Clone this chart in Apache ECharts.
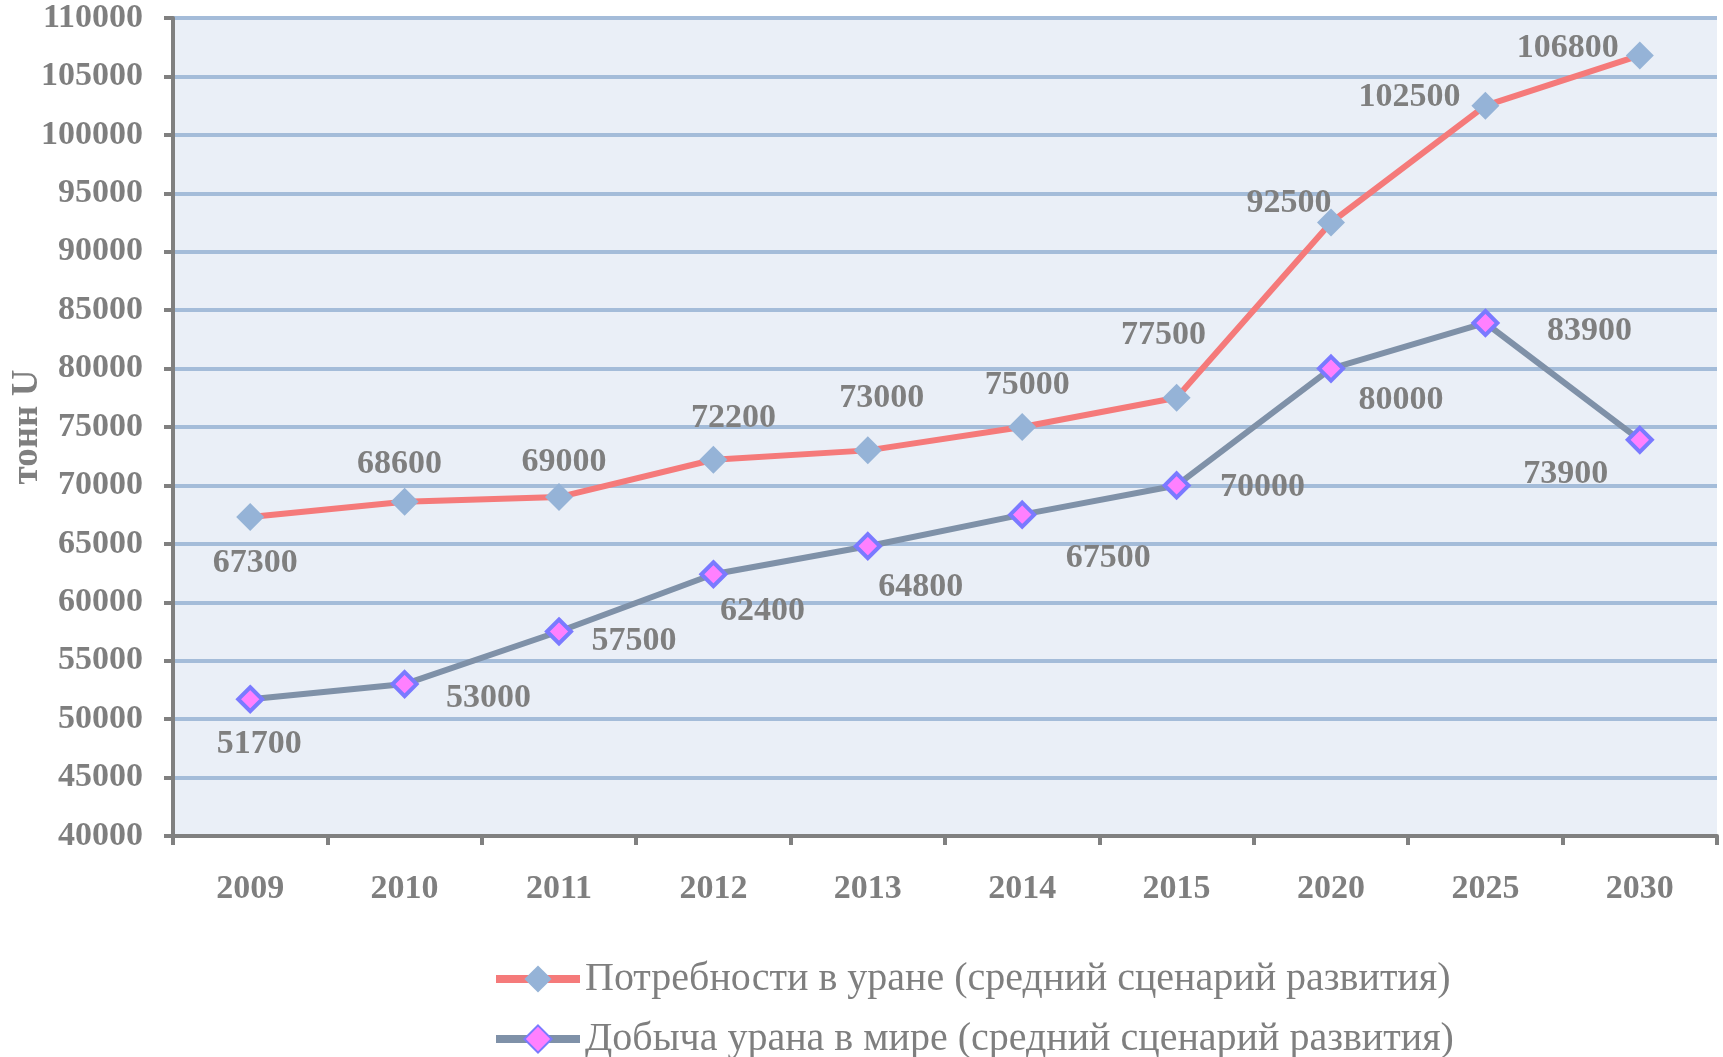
<!DOCTYPE html>
<html>
<head>
<meta charset="utf-8">
<script src="https://cdn.jsdelivr.net/npm/echarts@6/dist/echarts.min.js"></script>
<style>
  html, body { margin: 0; padding: 0; background: #fff; }
  #chart { width: 1723px; height: 1057px; }
</style>
</head>
<body>
<div id="chart"></div>
<script>
// years on the x axis
var years = ['2009', '2010', '2011', '2012', '2013', '2014', '2015', '2020', '2025', '2030'];

// tonnes of uranium
var demand = [67300, 68600, 69000, 72200, 73000, 75000, 77500, 92500, 102500, 106800];
var production = [51700, 53000, 57500, 62400, 64800, 67500, 70000, 80000, 83900, 73900];

var seriesNames = [
    'Потребности в уране (средний сценарий развития)',
    'Добыча урана в мире (средний сценарий развития)'
];

// where each value label sits relative to its marker
var demandLabelOffset = [[5, 46], [-5, -38], [5, -35], [20, -42], [14, -52], [5, -42], [-13, -63], [-42, -19], [-76, -8], [-72, -7]];
var productionLabelOffset = [[9, 45], [84, 14], [75, 10], [49, 37], [53, 41], [86, 44], [86, 2], [70, 32], [104, 8], [-74, 34]];

var serif = '"Liberation Serif", "Times New Roman", serif';
var grey = '#7f7f7f';

function withLabels(values, offsets) {
    return values.map(function(v, i) {
        return { value: v, label: { offset: offsets[i] } };
    });
}

var labelStyle = {
    show: true,
    position: 'inside',
    color: grey,
    fontFamily: serif,
    fontWeight: 'bold',
    fontSize: 34
};

function legendRow(name, top) {
    return {
        orient: 'vertical',
        left: 492,
        top: top,
        padding: 0,
        itemWidth: 84,
        itemHeight: 34,
        itemGap: 0,
        lineStyle: { width: 8 },
        textStyle: {
            color: grey,
            fontFamily: serif,
            fontSize: 40
        },
        data: [name]
    };
}

var option = {
    backgroundColor: '#ffffff',
    animation: false,
    grid: {
        left: 173,
        right: 6,
        top: 18,
        bottom: 221,
        outerBoundsMode: 'none',
        containLabel: false,
        show: true,
        backgroundColor: '#eaeff7',
        borderWidth: 0
    },
    legend: [
        legendRow(seriesNames[0], 959),
        legendRow(seriesNames[1], 1019)
    ],
    xAxis: {
        type: 'category',
        data: years,
        boundaryGap: true,
        axisLine: { lineStyle: { color: '#808080', width: 4 } },
        axisTick: { show: true, length: 9, inside: false, lineStyle: { color: '#808080', width: 4 } },
        axisLabel: {
            color: grey,
            fontFamily: serif,
            fontWeight: 'bold',
            fontSize: 34,
            margin: 36
        }
    },
    yAxis: {
        type: 'value',
        min: 40000,
        max: 110000,
        interval: 5000,
        name: 'тонн U',
        nameLocation: 'middle',
        nameRotate: 90,
        nameGap: 127,
        nameMoveOverlap: false,
        nameTextStyle: {
            color: grey,
            fontFamily: serif,
            fontWeight: 'bold',
            fontSize: 37
        },
        axisLine: { show: true, lineStyle: { color: '#808080', width: 4 } },
        axisTick: { show: true, length: 9, lineStyle: { color: '#808080', width: 4 } },
        axisLabel: {
            color: grey,
            fontFamily: serif,
            fontWeight: 'bold',
            fontSize: 34,
            margin: 30,
            formatter: function(v) { return String(v); }
        },
        splitLine: { show: true, lineStyle: { color: '#a4bcd9', width: 4 } }
    },
    series: [
        {
            name: seriesNames[0],
            type: 'line',
            data: withLabels(demand, demandLabelOffset),
            symbol: 'diamond',
            symbolSize: 28,
            lineStyle: { color: '#f57a7a', width: 6 },
            itemStyle: { color: '#95b3d7', borderWidth: 0 },
            label: labelStyle,
            z: 3
        },
        {
            name: seriesNames[1],
            type: 'line',
            data: withLabels(production, productionLabelOffset),
            symbol: 'diamond',
            symbolSize: 24,
            lineStyle: { color: '#7f91a8', width: 6 },
            itemStyle: { color: '#ff80ff', borderColor: '#7a7aff', borderWidth: 4 },
            label: labelStyle,
            z: 3
        }
    ]
};

echarts.init(document.getElementById('chart')).setOption(option);
</script>
</body>
</html>
